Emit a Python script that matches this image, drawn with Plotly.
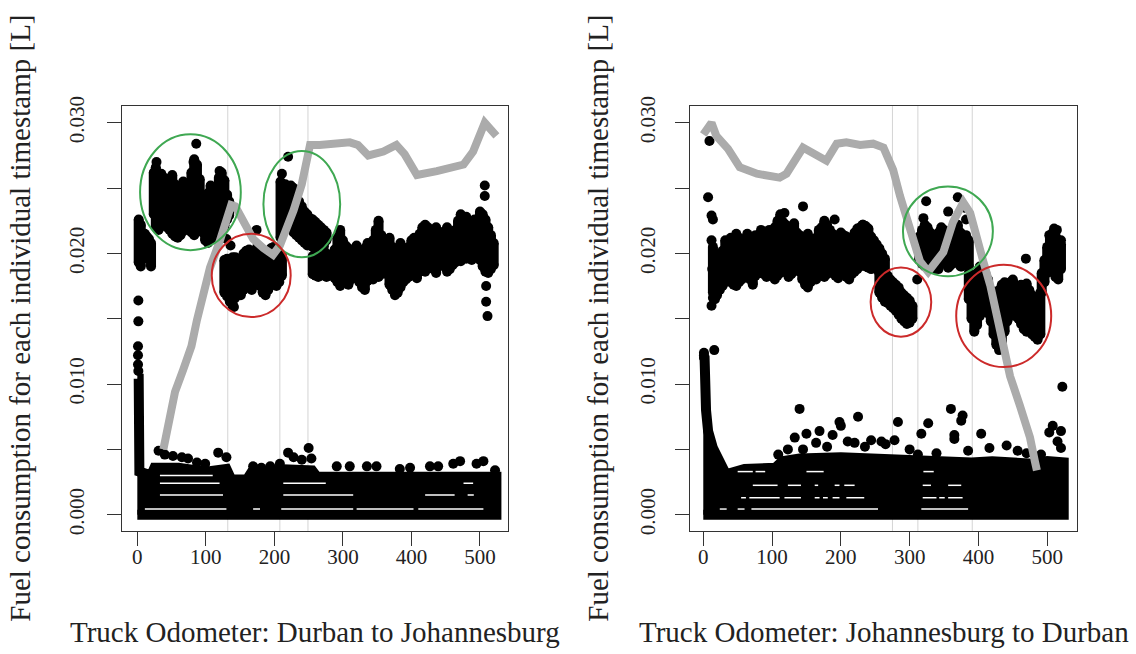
import plotly.graph_objects as go

# ---------------- data: left panel (Durban -> Johannesburg) ----------------
L_cloud_x = [2, 5, 8, 11, 14, 17, 20,
             24, 27, 31, 35, 39, 43, 47, 51, 55, 59, 63, 67, 71, 75, 79, 83, 87, 91, 95, 99, 103, 107, 111, 115, 119, 123, 127, 131, 134,
             127, 131, 135, 139, 143, 147, 151, 155, 159, 163, 167, 171, 175, 179, 183, 187, 191, 195, 199, 203, 207, 211,
             209, 212, 216, 220, 224, 228, 232, 236, 240, 244, 248, 252, 256, 260, 264, 268, 272, 276,
             256, 260, 264, 268, 272, 276, 280, 284, 288, 292, 296, 300, 304, 308, 312, 316, 320, 324, 328, 332, 336, 340, 344, 348,
             352, 356, 360, 364, 368, 372, 376, 380, 384, 388, 392, 396, 400, 404, 408, 412, 416, 420, 424, 428, 432, 436, 440, 444,
             448, 452, 456, 460, 464, 468, 472, 476, 480, 484, 488, 492, 496, 500, 504, 508, 512, 516, 520]
L_cloud_lo = [.0193, .0190, .0196, .0198, .0197, .0196, .0190,
              .0230, .0220, .0218, .0222, .0225, .0220, .0218, .0215, .0213, .0212, .0214, .0217, .0220, .0218, .0216, .0214, .0218, .0222, .0216, .0210, .0208, .0211, .0212, .0214, .0216, .0219, .0221, .0226, .0229,
              .0170, .0167, .0163, .0160, .0166, .0170, .0168, .0172, .0176, .0174, .0172, .0178, .0180, .0175, .0170, .0168, .0172, .0176, .0178, .0175, .0178, .0183,
              .0212, .0215, .0220, .0222, .0220, .0216, .0214, .0212, .0210, .0208, .0206, .0206, .0205, .0205, .0207, .0206, .0205, .0210,
              .0184, .0183, .0182, .0183, .0184, .0182, .0183, .0185, .0181, .0178, .0175, .0180, .0183, .0176, .0180, .0184, .0182, .0178, .0174, .0172, .0179, .0183, .0180, .0185,
              .0182, .0184, .0186, .0184, .0176, .0172, .0168, .0170, .0174, .0178, .0180, .0182, .0184, .0183, .0181, .0186, .0188, .0186, .0189, .0190, .0188, .0185, .0190, .0192,
              .0190, .0186, .0188, .0191, .0193, .0196, .0194, .0197, .0196, .0198, .0195, .0197, .0199, .0195, .0190, .0186, .0185, .0188, .0191]
L_cloud_hi = [.0226, .0222, .0214, .0215, .0213, .0211, .0208,
              .0262, .0266, .0258, .0261, .0258, .0257, .0255, .0260, .0253, .0246, .0251, .0255, .0236, .0240, .0262, .0272, .0268, .0257, .0243, .0238, .0246, .0252, .0247, .0250, .0258, .0262, .0256, .0245, .0240,
              .0195, .0196, .0195, .0197, .0197, .0190, .0195, .0200, .0202, .0203, .0200, .0202, .0205, .0204, .0199, .0196, .0200, .0204, .0205, .0203, .0200, .0198,
              .0255, .0250, .0253, .0248, .0252, .0250, .0245, .0240, .0236, .0232, .0230, .0227, .0226, .0224, .0222, .0220, .0218, .0216,
              .0198, .0200, .0199, .0197, .0198, .0200, .0196, .0199, .0203, .0212, .0218, .0210, .0206, .0204, .0200, .0203, .0206, .0201, .0199, .0204, .0208, .0205, .0210, .0218,
              .0225, .0214, .0210, .0205, .0212, .0205, .0198, .0203, .0208, .0204, .0200, .0205, .0210, .0212, .0208, .0215, .0220, .0222, .0220, .0215, .0218, .0220, .0214, .0210,
              .0217, .0220, .0216, .0213, .0218, .0225, .0230, .0222, .0228, .0224, .0220, .0226, .0220, .0232, .0230, .0226, .0220, .0214, .0208]
L_dots_x = [1, 1, 1, 1.5, 1.5, 1.5, 28, 86, 82, 120, 130, 136, 141, 174, 220, 211, 507, 507, 509, 509, 511,
            31, 40, 52, 65, 74, 87, 99, 118, 130, 169, 181, 194, 208, 220, 228, 240, 250, 254,
            291, 310, 335, 349, 383, 398, 427, 439, 461, 471, 495, 505, 522]
L_dots_y = [.0129, .0122, .0115, .0110, .0164, .0148, .0270, .0284, .0270, .0263, .0211, .0206, .0159, .0218, .0274, .0261, .0252, .0244, .0175, .0163, .0152,
            .0049, .0046, .0045, .0044, .0043, .0040, .0039, .00475, .0044, .0037, .0036, .0037, .0039, .00475, .0044, .0042, .0051, .0043,
            .0037, .0037, .0037, .0037, .0035, .0036, .0037, .0037, .0039, .0041, .0039, .0041, .0034]
L_band_x = [0, 2, 3, 20, 25, 60, 100, 130, 137, 160, 166, 200, 206, 255, 262, 524]
L_band_top = [.0104, .0104, .0033, .0030, .0036, .0036, .0033, .0035, .0027, .0027, .0032, .0032, .0035, .0034, .0029, .0029]
L_gap_level = [.00043, .00043, .00043, .00043, .00043, .0015, .0015, .0015, .0015, .0024, .0024, .0024, .0030]
L_gap_x0 = [11, 169, 210, 320, 410, 33, 213, 420, 482, 33, 213, 476, 33]
L_gap_x1 = [130, 179, 315, 403, 505, 125, 315, 463, 491, 120, 275, 490, 110]
L_elev_x = [38, 45, 55, 67, 79, 87, 96, 106, 120, 131, 137, 143, 155, 169, 184, 198, 208, 218, 228, 240, 247, 252, 266, 310, 322, 337, 359, 378, 390, 408, 437, 476, 490, 507, 524]
L_elev_y = [.0050, .0071, .0094, .0111, .0129, .0149, .0171, .0189, .0209, .0228, .0237, .0236, .0224, .0211, .0204, .0199, .0206, .0218, .0233, .0253, .0275, .0283, .0283, .0285, .0283, .0275, .0278, .0283, .0276, .0260, .0263, .0268, .0278, .0300, .0290]
L_marks = [132, 208, 249]
L_green = [(4, 151, .02025, .02912), (184, 296, .0197, .02783)]
L_red = [(108.6, 223.8, .01513, .0215)]

# ---------------- data: right panel (Johannesburg -> Durban) ----------------
R_cloud_x = [14, 17, 20, 24, 28, 32, 36, 40, 44, 48, 52, 56, 60, 64, 68, 72, 76, 80, 84, 88, 92, 96, 100, 104, 108, 112, 116, 120,
             124, 128, 132, 136, 140, 144, 148, 152, 156, 160, 164, 168, 172, 176, 180, 184, 188, 192, 196, 200, 204, 208, 212, 216,
             220, 224, 228, 232, 236, 240, 244, 248, 252, 256, 260, 264,
             256, 260, 264, 268, 272, 276, 280, 284, 288, 292, 296, 300, 304,
             314, 318, 322, 326, 330, 334, 338, 342, 346, 350, 354, 358, 362, 366, 370, 374, 378, 382, 386,
             386, 390, 394, 398, 402, 406, 410, 414, 418, 422, 426, 430, 434, 438, 442, 446, 450, 454, 458, 462, 466, 470, 474, 478,
             482, 486, 490, 492, 496, 500, 504, 508, 512, 516, 520]
R_cloud_lo = [.0170, .0165, .0168, .0172, .0175, .0178, .0180, .0178, .0176, .0175, .0178, .0180, .0182, .0184, .0180, .0176, .0183, .0186, .0185, .0184, .0182, .0186, .0184, .0180, .0183, .0185, .0188, .0186,
              .0182, .0184, .0187, .0189, .0186, .0180, .0176, .0174, .0178, .0182, .0180, .0183, .0186, .0182, .0184, .0187, .0186, .0183, .0181, .0184, .0186, .0182, .0180, .0184,
              .0186, .0188, .0190, .0191, .0190, .0189, .0188, .0189, .0188, .0186, .0184, .0182,
              .0170, .0166, .0163, .0162, .0160, .0158, .0156, .0153, .0150, .0148, .0146, .0147, .0150,
              .0195, .0192, .0190, .0194, .0196, .0193, .0190, .0188, .0192, .0195, .0193, .0190, .0192, .0195, .0193, .0190, .0192, .0194, .0190,
              .0165, .0150, .0140, .0145, .0152, .0155, .0158, .0154, .0148, .0138, .0130, .0126, .0132, .0140, .0148, .0152, .0155, .0152, .0150, .0146, .0142, .0140, .0142, .0138,
              .0136, .0134, .0138, .0170, .0178, .0185, .0188, .0186, .0182, .0180, .0188]
R_cloud_hi = [.0205, .0200, .0196, .0195, .0202, .0210, .0207, .0212, .0210, .0215, .0212, .0208, .0210, .0215, .0212, .0208, .0214, .0212, .0218, .0215, .0213, .0218, .0216, .0220, .0225, .0230, .0224, .0222,
              .0220, .0218, .0223, .0216, .0214, .0212, .0210, .0215, .0211, .0209, .0212, .0218, .0220, .0225, .0222, .0218, .0215, .0213, .0212, .0216, .0214, .0213, .0210, .0212,
              .0216, .0219, .0220, .0222, .0221, .0219, .0213, .0210, .0207, .0204, .0200, .0196,
              .0185, .0184, .0182, .0183, .0180, .0178, .0176, .0174, .0170, .0168, .0166, .0164, .0160,
              .0213, .0218, .0222, .0220, .0216, .0212, .0214, .0216, .0220, .0218, .0214, .0212, .0216, .0220, .0222, .0216, .0212, .0214, .0210,
              .0185, .0183, .0182, .0185, .0190, .0188, .0185, .0180, .0172, .0170, .0168, .0172, .0176, .0178, .0176, .0178, .0180, .0176, .0175, .0176, .0175, .0177, .0172, .0168,
              .0165, .0166, .0170, .0185, .0195, .0205, .0212, .0216, .0214, .0210, .0207]
R_dots_x = [9, 7, 12, 14, 12, 13, 14, 12, 118, 145, 191, 232, 311, 324, 356, 370, 380, 320, 382, 336, 356, 376, 469, 510, 503, 520, 514,
            16, 1, 1, 1,
            140, 225, 198, 200, 360, 377, 375, 283, 327, 522, 508, 503, 520, 515, 404, 365, 365, 150, 169, 188, 164, 133, 210, 220,
            244, 259, 278, 317, 416, 441, 457, 109, 123, 339, 385, 491, 312, 180, 145, 235, 265, 300, 470, 520]
R_dots_y = [.0286, .0243, .0229, .0226, .0210, .0188, .0166, .0160, .0231, .0236, .0226, .0222, .0180, .0240, .0232, .0243, .0235, .0227, .0226, .0188, .0189, .0190, .0196, .0219, .0214, .0210, .0218,
            .0126, .0122, .0120, .0124,
            .0081, .0075, .0071, .0068, .0081, .0076, .0072, .0071, .0070, .0098, .0068, .0063, .0064, .0056, .0062, .0061, .0058, .0062, .0064, .0061, .0055, .0059, .0056, .0055,
            .0057, .0056, .0057, .0062, .0051, .0053, .0049, .0046, .0050, .0047, .0049, .0046, .0046, .0052, .0050, .0052, .0054, .0050, .0047, .0051]
R_band_x = [0, 2, 4, 7, 14, 23, 33, 60, 105, 115, 140, 200, 260, 300, 330, 360, 390, 420, 460, 480, 500, 524]
R_band_top = [.0118, .0118, .0080, .0064, .0051, .0040, .0031, .0035, .0036, .0041, .0043, .0044, .0043, .0041, .0040, .0041, .0040, .0041, .0040, .0039, .0041, .0040]
R_gap_level = [.00043, .00043, .00043, .00043, .0013, .0013, .0013, .0013, .0013, .0013, .0013, .0013, .0013, .0013,
               .00225, .00225, .00225, .00225, .00225, .00225, .00225, .0033, .0033, .0033, .0033]
R_gap_x0 = [24, 50, 70, 317, 55, 67, 118, 162, 174, 188, 208, 319, 343, 356, 72, 123, 162, 191, 205, 319, 356, 50, 76, 150, 320]
R_gap_x1 = [34, 60, 254, 385, 62, 111, 142, 169, 181, 198, 234, 339, 351, 377, 108, 142, 167, 198, 220, 331, 375, 72, 90, 175, 335]
R_elev_x = [0, 12, 19, 36, 53, 78, 111, 121, 145, 179, 194, 208, 228, 247, 262, 276, 286, 296, 305, 315, 327, 349, 363, 378, 388, 397, 407, 417, 424, 431, 439, 446, 460, 475, 482, 485]
R_elev_y = [.0291, .0300, .0290, .0280, .0266, .0261, .0258, .0261, .0281, .0271, .0284, .0285, .0283, .0284, .0281, .0264, .0244, .0226, .0209, .0194, .0186, .0201, .0224, .0239, .0231, .0211, .0194, .0176, .0159, .0139, .0121, .0106, .0084, .0059, .0041, .0034]
R_marks = [275, 312, 391]
R_green = [(290.3, 421, .01825, .02513)]
R_red = [(243.3, 331.4, .01363, .01892), (367.7, 505.8, .0113, .01913)]

y_tickvals = [0, 0.005, 0.010, 0.015, 0.020, 0.025, 0.030]
y_ticktext = ["0.000", "", "0.010", "", "0.020", "", "0.030"]
x_tickvals = [0, 100, 200, 300, 400, 500]
x_titles = ["Truck Odometer: Durban to Johannesburg", "Truck Odometer: Johannesburg to Durban"]
y_title = "Fuel consumption for each individual timestamp [L]"

# ---------------- figure ----------------
FONT = "Liberation Serif"
W, H = 1136, 654
MS = 10
fig = go.Figure()

panels = [
    dict(xa="x", ya="y", cx=L_cloud_x, lo=L_cloud_lo, hi=L_cloud_hi, dx=L_dots_x, dy=L_dots_y,
         bx=L_band_x, bt=L_band_top, gl=L_gap_level, g0=L_gap_x0, g1=L_gap_x1,
         ex=L_elev_x, ey=L_elev_y, marks=L_marks, green=L_green, red=L_red, xref="x", yref="y"),
    dict(xa="x2", ya="y2", cx=R_cloud_x, lo=R_cloud_lo, hi=R_cloud_hi, dx=R_dots_x, dy=R_dots_y,
         bx=R_band_x, bt=R_band_top, gl=R_gap_level, g0=R_gap_x0, g1=R_gap_x1,
         ex=R_elev_x, ey=R_elev_y, marks=R_marks, green=R_green, red=R_red, xref="x2", yref="y2"),
]

shapes = []
for p in panels:
    for m in p["marks"]:
        shapes.append(dict(type="line", xref=p["xref"], yref=p["yref"] + " domain", x0=m, x1=m, y0=0, y1=1,
                           line=dict(color="#d4d4d4", width=1), layer="below"))
    bx = p["bx"]; bt = p["bt"]
    fig.add_trace(go.Scatter(x=bx + bx[::-1], y=bt + [0] * len(bx), mode="lines", fill="toself",
                             fillcolor="black", line=dict(color="black", width=MS),
                             xaxis=p["xa"], yaxis=p["ya"], hoverinfo="skip", showlegend=False))
    gx, gy = [], []
    for lev, a, b in zip(p["gl"], p["g0"], p["g1"]):
        gx += [a, b, None]; gy += [lev, lev, None]
    fig.add_trace(go.Scatter(x=gx, y=gy, mode="lines", line=dict(color="white", width=1.5),
                             xaxis=p["xa"], yaxis=p["ya"], hoverinfo="skip", showlegend=False))
    cx, cy = [], []
    for x, lo, hi in zip(p["cx"], p["lo"], p["hi"]):
        cx += [x, x, None]; cy += [lo, hi, None]
    fig.add_trace(go.Scatter(x=cx, y=cy, mode="lines+markers", line=dict(color="black", width=MS),
                             marker=dict(color="black", size=MS),
                             xaxis=p["xa"], yaxis=p["ya"], hoverinfo="skip", showlegend=False))
    fig.add_trace(go.Scatter(x=p["dx"], y=p["dy"], mode="markers", marker=dict(color="black", size=MS),
                             xaxis=p["xa"], yaxis=p["ya"], hoverinfo="skip", showlegend=False))
    fig.add_trace(go.Scatter(x=p["ex"], y=p["ey"], mode="lines", line=dict(color="#ababab", width=8),
                             xaxis=p["xa"], yaxis=p["ya"], hoverinfo="skip", showlegend=False))
    for (x0, x1, y0, y1) in p["green"]:
        shapes.append(dict(type="circle", xref=p["xref"], yref=p["yref"], x0=x0, x1=x1, y0=y0, y1=y1,
                           line=dict(color="#3fa852", width=2), layer="above"))
    for (x0, x1, y0, y1) in p["red"]:
        shapes.append(dict(type="circle", xref=p["xref"], yref=p["yref"], x0=x0, x1=x1, y0=y0, y1=y1,
                           line=dict(color="#cc2a2a", width=2), layer="above"))

ydom = [1 - 532 / H, 1 - 98 / H]
xdom1 = [121.7 / W, 508 / W]
xdom2 = [690 / W, 1077 / W]

axis_common = dict(showline=True, mirror=True, linecolor="#333333", linewidth=1, ticks="outside",
                   ticklen=14, tickwidth=1, tickcolor="#333333", showgrid=False, zeroline=False,
                   tickfont=dict(family=FONT, size=21, color="#222222"))

fig.update_layout(
    width=W, height=H, margin=dict(l=0, r=0, t=0, b=0),
    paper_bgcolor="white", plot_bgcolor="white", showlegend=False,
    xaxis=dict(domain=xdom1, range=[-22.8, 540.9], tickvals=x_tickvals, anchor="y", ticklabelstandoff=-8, **axis_common),
    xaxis2=dict(domain=xdom2, range=[-19.3, 543.3], tickvals=x_tickvals, anchor="y2", ticklabelstandoff=-8, **axis_common),
    yaxis=dict(domain=ydom, range=[-0.00128, 0.03128], tickvals=y_tickvals, ticktext=y_ticktext,
               tickangle=-90, anchor="x", ticklabelstandoff=14, **axis_common),
    yaxis2=dict(domain=ydom, range=[-0.00128, 0.03128], tickvals=y_tickvals, ticktext=y_ticktext,
                tickangle=-90, anchor="x2", ticklabelstandoff=12, **axis_common),
    shapes=shapes,
)

ann = []
for i, dom in enumerate([xdom1, xdom2]):
    ann.append(dict(text=x_titles[i], xref="paper", yref="paper", x=(dom[0] + dom[1]) / 2, y=1 - 635 / H,
                    xanchor="center", yanchor="middle", showarrow=False,
                    font=dict(family=FONT, size=29, color="#222222")))
for xp in [20, 598]:
    ann.append(dict(text=y_title, xref="paper", yref="paper", x=xp / W, y=(ydom[0] + ydom[1]) / 2,
                    xanchor="center", yanchor="middle", textangle=-90, showarrow=False,
                    font=dict(family=FONT, size=29, color="#222222")))
fig.update_layout(annotations=ann)

fig.write_html("out.html")
